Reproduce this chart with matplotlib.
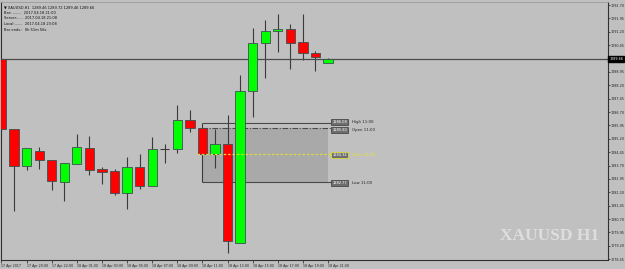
import matplotlib
matplotlib.use("Agg")
import matplotlib.pyplot as plt
import numpy as np

# ---- data ----
time_labels = ["17 Apr 2017", "17 Apr 20:00", "17 Apr 22:00", "18 Apr 01:00", "18 Apr 03:00",
               "18 Apr 05:00", "18 Apr 07:00", "18 Apr 09:00", "18 Apr 11:00", "18 Apr 13:00",
               "18 Apr 15:00", "18 Apr 17:00", "18 Apr 19:00", "18 Apr 21:00"]
opens = [1289.67, 1285.75, 1283.67, 1284.51, 1284.01, 1282.77, 1283.78, 1284.68, 1283.50, 1283.39,
         1282.16, 1283.61, 1282.55, 1284.62, 1284.62, 1286.25, 1285.80, 1284.34, 1284.90, 1279.35,
         1287.88, 1290.57, 1291.24, 1291.35, 1290.62, 1290.01, 1289.46]
highs = [1289.70, 1285.75, 1284.68, 1284.74, 1284.01, 1283.84, 1285.46, 1285.35, 1283.61, 1283.50,
         1284.18, 1284.34, 1285.30, 1284.90, 1287.09, 1286.81, 1286.08, 1285.75, 1286.53, 1288.77,
         1291.41, 1291.86, 1292.20, 1291.63, 1292.20, 1290.12, 1289.72]
lows = [1285.30, 1281.15, 1283.45, 1283.50, 1282.32, 1281.71, 1283.78, 1283.17, 1282.66, 1282.04,
        1281.26, 1282.38, 1282.55, 1283.84, 1284.40, 1285.58, 1282.77, 1283.56, 1278.79, 1279.35,
        1286.42, 1288.61, 1290.06, 1289.11, 1289.62, 1289.00, 1289.46]
closes = [1285.75, 1283.67, 1284.68, 1284.01, 1282.83, 1283.84, 1284.74, 1283.45, 1283.33, 1282.16,
          1283.61, 1282.55, 1284.62, 1284.62, 1286.25, 1285.80, 1284.34, 1284.90, 1279.46, 1287.88,
          1290.57, 1291.24, 1291.35, 1290.57, 1290.01, 1289.78, 1289.66]
price_ticks = [1292.70, 1291.95, 1291.20, 1290.45, 1288.95, 1288.20, 1287.45, 1286.70, 1285.95,
               1285.20, 1284.45, 1283.70, 1282.95, 1282.20, 1281.45, 1280.70, 1279.95, 1279.20, 1278.45]
current_price = 1289.66
box_bar = 16  # the 11:00 bar
info_lines = ["\u25bc XAUUSD,H1  1289.46 1289.72 1289.46 1289.66",
              "Bar:.........  2017.04.18 21:00",
              "Server:.....  2017.04.18 21:08",
              "Local:.......  2017.04.18 23:08",
              "Bar ends.:  0h 51m 56s"]

BG = "#c0c0c0"
fig = plt.figure(figsize=(6.25, 2.69), dpi=100, facecolor=BG)
ax = fig.add_axes([1.5 / 625, (269 - 259.5) / 269, (608 - 1.5) / 625, (259.5 - 2) / 269])
ax.set_facecolor(BG)

n = len(opens)
x = np.arange(n)
o = np.array(opens); c = np.array(closes); h = np.array(highs); l = np.array(lows)

# annotation box (behind candles)
bo, bh, bl, bc = opens[box_bar], highs[box_bar], lows[box_bar], closes[box_bar]
x_end = n - 1
ax.fill_between([box_bar, x_end], [bo, bo], [bl, bl], color="#a9a9a9", zorder=1, linewidth=0)
ax.hlines(bh, box_bar, x_end + 0.3, color="#4a4a4a", lw=0.8, zorder=1.5)
ax.hlines(bl, box_bar, x_end + 0.3, color="#4a4a4a", lw=0.8, zorder=1.5)
ax.hlines(bo, box_bar, x_end + 0.3, color="#4a4a4a", lw=0.8, linestyles=(0, (5, 1.5, 1, 1.5)), zorder=1.5)
ax.hlines(bc, box_bar - 0.4, x_end + 0.3, color="#dcdc40", lw=0.9, linestyles=(0, (2, 1.5)), zorder=4)

# wicks
ax.vlines(x, l, h, color="#3a3a3a", lw=0.8, zorder=2)
# bodies
up = c > o
down = c < o
ax.bar(x[up], (c - o)[up], bottom=o[up], width=0.74, color="#00ff00", edgecolor="#3d5050", linewidth=0.6, zorder=3)
ax.bar(x[down], (o - c)[down], bottom=c[down], width=0.74, color="#ff0000", edgecolor="#3d5050", linewidth=0.6, zorder=3)
doji = c == o
ax.hlines(o[doji], x[doji] - 0.37, x[doji] + 0.37, color="#3a3a3a", lw=0.8, zorder=3)

# current price line
ax.axhline(current_price, color="#4a4a4a", lw=0.9, zorder=2.5)

# box labels
lab_x = x_end + 0.35
for val, name, yoff, ec, tc in [(bh, "High 11:00", 0.06, "#3a3a3a", "#202020"),
                                (bo, "Open 11:00", -0.1, "#3a3a3a", "#202020"),
                                (bc, "Close 11:00", -0.05, "#e8e820", "#e8e820"),
                                (bl, "Low 11:00", -0.05, "#3a3a3a", "#202020")]:
    ax.text(lab_x, val + yoff, f"{val:.2f}", fontsize=2.6, color="white", va="center", ha="left",
            bbox=dict(boxstyle="square,pad=0.25", fc="#6e6e6e", ec=ec, lw=0.5), zorder=5)
    ax.text(lab_x + 1.55, val + yoff, name, fontsize=2.8, color=tc, va="center", ha="left", zorder=5)

# axes limits & ticks
ax.set_xlim(0, 48.3)
ax.set_ylim(1278.43, 1292.87)
ax.yaxis.tick_right()
ax.set_yticks(price_ticks)
ax.set_yticklabels([f"{v:.2f}" for v in price_ticks])
ax.tick_params(axis="y", direction="out", length=1.5, width=0.5, labelsize=2.4, pad=0.6, colors="#202020")
ax.set_xticks(x[::2])
ax.set_xticklabels(time_labels, ha="left")
ax.tick_params(axis="x", direction="out", length=2, width=0.5, labelsize=2.3, pad=1, colors="#202020")
for lbl in ax.get_xticklabels():
    lbl.set_horizontalalignment("left")

for s in ["left", "bottom", "right"]:
    ax.spines[s].set_color("#303030")
    ax.spines[s].set_linewidth(0.8)
ax.spines["top"].set_color("#9a9a9a")
ax.spines["top"].set_linewidth(0.6)

# current price highlight on the axis
ax.text(1.002, current_price, f"{current_price:.2f}", transform=ax.get_yaxis_transform(),
        fontsize=2.4, color="white", va="center", ha="left",
        bbox=dict(boxstyle="square,pad=0.3", fc="black", ec="black"), clip_on=False, zorder=6)

# info text top-left
for i, t in enumerate(info_lines):
    ax.text(0.004, 0.988 - i * 0.022, t, transform=ax.transAxes, fontsize=2.6, color="#101010",
            va="top", ha="left", family=["DejaVu Sans"])

# watermark
ax.text(0.985, 0.09, "XAUUSD H1", transform=ax.transAxes, fontsize=12.5, color="#dedede",
        fontweight="bold", family=["Liberation Serif", "DejaVu Serif"],
        va="center", ha="right", zorder=0.5)

fig.savefig("out.png", dpi=100, facecolor=BG)
